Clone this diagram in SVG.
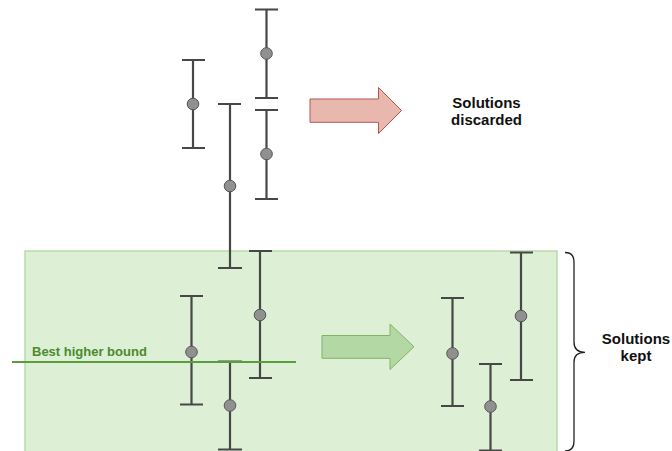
<svg xmlns="http://www.w3.org/2000/svg" width="672" height="451" viewBox="0 0 672 451">
<style>
.bar{stroke:#474747;stroke-width:2.2;fill:none}
.dot{fill:#909090;stroke:#555;stroke-width:1}
.lbl{font-family:"Liberation Sans",Arial,sans-serif;font-weight:bold;font-size:15px;fill:#111;text-anchor:middle}
</style>
<rect id="kept-zone" x="25" y="251" width="532" height="210" fill="#ddf0d6" stroke="#b7dbaa" stroke-width="1.5"/>
<g id="bar-a"><path class="bar" d="M193 60V148M182 60H205M182 148H205"/><circle class="dot" cx="193" cy="104" r="5.8"/></g>
<g id="bar-b"><path class="bar" d="M266.5 9V98M255 9.5H278M255 98H278"/><circle class="dot" cx="266.5" cy="53.5" r="5.8"/></g>
<g id="bar-c"><path class="bar" d="M230 104V268M218 104H241M218 268H242"/><circle class="dot" cx="230" cy="186" r="5.8"/></g>
<g id="bar-d"><path class="bar" d="M266.5 110V199M255 110H278M255 199H278"/><circle class="dot" cx="266.5" cy="154" r="5.8"/></g>
<g id="bar-e"><path class="bar" d="M260 251V378M249 251H272M249 378H272"/><circle class="dot" cx="260" cy="315" r="5.8"/></g>
<g id="bar-f"><path class="bar" d="M191.5 296V404.5M180 296H203M180 404.5H203"/><circle class="dot" cx="191.5" cy="352" r="5.8"/></g>
<g id="bar-g"><path class="bar" d="M230 361.5V449.5M218 361.5H242M218 449.5H242"/><circle class="dot" cx="230" cy="405.5" r="5.8"/></g>
<g id="best-bound">
<line x1="12" y1="362" x2="296" y2="362" stroke="#5a9e3c" stroke-width="1.8"/>
<text x="32" y="356" font-family="'Liberation Sans',Arial,sans-serif" font-weight="bold" font-size="13" fill="#4b8a2d">Best higher bound</text>
</g>
<g id="bar-h"><path class="bar" d="M452.5 298V406M441 298H464M441 406H464"/><circle class="dot" cx="452.5" cy="353.5" r="5.8"/></g>
<g id="bar-i"><path class="bar" d="M490.5 364V450.5M479 364H502M479 450.5H502"/><circle class="dot" cx="490.5" cy="406.5" r="5.8"/></g>
<g id="bar-j"><path class="bar" d="M521 252.5V380M510 252.5H533M510 380H533"/><circle class="dot" cx="521" cy="316" r="5.8"/></g>
<g id="connectors">
<path id="arrow-discard" d="M310 99H378.5V87.5L401.5 110.5L378.5 133.5V122.3H310Z" fill="#e8b8ae" stroke="#b85450" stroke-width="1"/>
<path id="arrow-keep" d="M322 335.5H390V324L414 346.8L390 369.5V358.3H322Z" fill="#b4d8a4" stroke="#82b366" stroke-width="1"/>
<path id="brace" d="M565 252.5Q574 252.5 574 262V342Q574 352.3 585 352.3Q574 352.3 574 362V441Q574 451 565 451" fill="none" stroke="#222" stroke-width="1.3"/>
</g>
<g id="label-discarded"><text class="lbl" x="486.5" y="107.5">Solutions</text><text class="lbl" x="486.5" y="124.5">discarded</text></g>
<g id="label-kept"><text class="lbl" x="636" y="343.5">Solutions</text><text class="lbl" x="636" y="360.5">kept</text></g>
</svg>
